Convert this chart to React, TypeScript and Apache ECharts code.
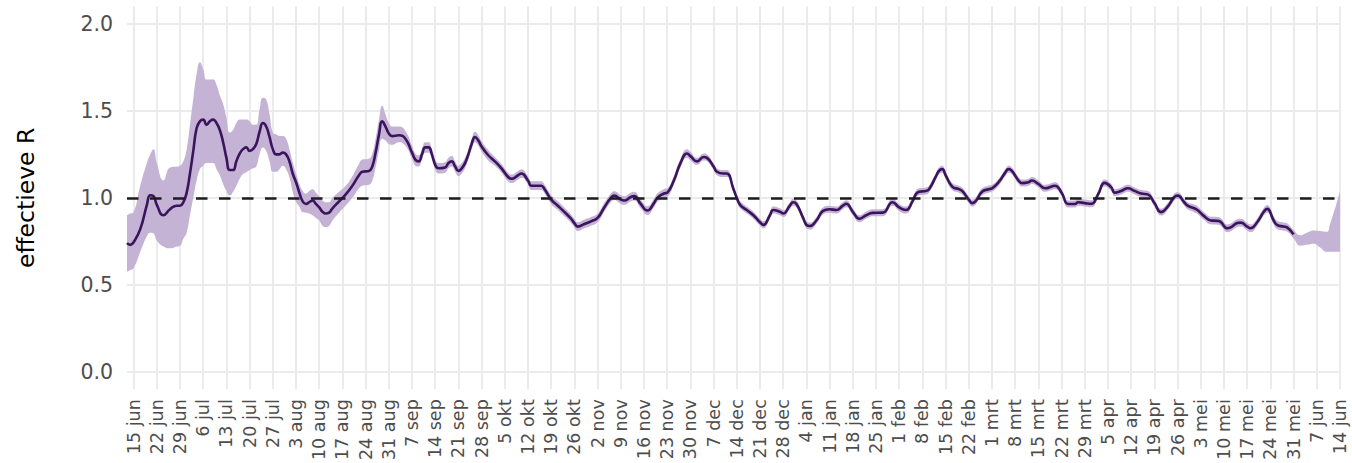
import React, { useEffect, useRef } from "react";
import * as echarts from "echarts";

// ---- x-axis range (daily categories) ----
const axisStart = "2020-06-13";
const axisEnd = "2021-06-14";
const monthNames = ["jan", "feb", "mrt", "apr", "mei", "jun", "jul", "aug", "sep", "okt", "nov", "dec"];
const yTitle = "effectieve R";
const refLevel = 1;

// ---- estimated effective R (line), sample dates ----
const lineDates = [
  // jun 2020
  "2020-06-13", "2020-06-14", "2020-06-15", "2020-06-17", "2020-06-19", "2020-06-20", "2020-06-21", "2020-06-22", "2020-06-24", "2020-06-26", "2020-06-28", "2020-06-29", "2020-06-30",
  // jul
  "2020-07-01", "2020-07-02", "2020-07-03", "2020-07-04", "2020-07-05", "2020-07-06", "2020-07-07", "2020-07-08", "2020-07-09", "2020-07-10", "2020-07-11", "2020-07-12", "2020-07-13", "2020-07-14", "2020-07-15", "2020-07-16", "2020-07-17", "2020-07-18", "2020-07-19", "2020-07-20", "2020-07-21", "2020-07-22", "2020-07-23", "2020-07-24", "2020-07-25", "2020-07-26", "2020-07-27", "2020-07-28", "2020-07-29", "2020-07-30", "2020-07-31",
  // aug
  "2020-08-01", "2020-08-02", "2020-08-03", "2020-08-04", "2020-08-05", "2020-08-06", "2020-08-07", "2020-08-08", "2020-08-09", "2020-08-10", "2020-08-11", "2020-08-12", "2020-08-13", "2020-08-14", "2020-08-16", "2020-08-18", "2020-08-20", "2020-08-22", "2020-08-23", "2020-08-25", "2020-08-26", "2020-08-27", "2020-08-28", "2020-08-29", "2020-08-30", "2020-08-31",
  // sep
  "2020-09-01", "2020-09-03", "2020-09-05", "2020-09-07", "2020-09-08", "2020-09-09", "2020-09-10", "2020-09-11", "2020-09-12", "2020-09-13", "2020-09-14", "2020-09-15", "2020-09-17", "2020-09-18", "2020-09-19", "2020-09-20", "2020-09-21", "2020-09-22", "2020-09-23", "2020-09-24", "2020-09-25", "2020-09-26", "2020-09-27", "2020-09-28", "2020-09-30",
  // okt
  "2020-10-02", "2020-10-04", "2020-10-06", "2020-10-07", "2020-10-09", "2020-10-10", "2020-10-12", "2020-10-13", "2020-10-15", "2020-10-16", "2020-10-17", "2020-10-19", "2020-10-21", "2020-10-24", "2020-10-25", "2020-10-26", "2020-10-27", "2020-10-29", "2020-10-31",
  // nov
  "2020-11-02", "2020-11-04", "2020-11-06", "2020-11-07", "2020-11-09", "2020-11-10", "2020-11-12", "2020-11-13", "2020-11-15", "2020-11-17", "2020-11-19", "2020-11-20", "2020-11-22", "2020-11-23", "2020-11-25", "2020-11-27", "2020-11-29", "2020-11-30",
  // dec
  "2020-12-02", "2020-12-04", "2020-12-05", "2020-12-07", "2020-12-08", "2020-12-10", "2020-12-11", "2020-12-13", "2020-12-14", "2020-12-15", "2020-12-17", "2020-12-19", "2020-12-21", "2020-12-22", "2020-12-24", "2020-12-25", "2020-12-27", "2020-12-28", "2020-12-30", "2020-12-31",
  // jan 2021
  "2021-01-01", "2021-01-03", "2021-01-04", "2021-01-05", "2021-01-07", "2021-01-09", "2021-01-11", "2021-01-13", "2021-01-15", "2021-01-16", "2021-01-18", "2021-01-20", "2021-01-22", "2021-01-24", "2021-01-27", "2021-01-30",
  // feb
  "2021-02-01", "2021-02-03", "2021-02-05", "2021-02-06", "2021-02-07", "2021-02-09", "2021-02-10", "2021-02-12", "2021-02-13", "2021-02-14", "2021-02-15", "2021-02-17", "2021-02-19", "2021-02-20", "2021-02-22", "2021-02-23", "2021-02-24", "2021-02-26", "2021-02-28",
  // mrt
  "2021-03-01", "2021-03-03", "2021-03-05", "2021-03-06", "2021-03-07", "2021-03-09", "2021-03-10", "2021-03-12", "2021-03-13", "2021-03-15", "2021-03-17", "2021-03-19", "2021-03-20", "2021-03-22", "2021-03-24", "2021-03-26", "2021-03-27", "2021-03-29", "2021-03-31",
  // apr
  "2021-04-02", "2021-04-04", "2021-04-06", "2021-04-07", "2021-04-09", "2021-04-11", "2021-04-13", "2021-04-15", "2021-04-17", "2021-04-19", "2021-04-21", "2021-04-23", "2021-04-25", "2021-04-26", "2021-04-28", "2021-04-29",
  // mei
  "2021-05-01", "2021-05-02", "2021-05-04", "2021-05-06", "2021-05-08", "2021-05-09", "2021-05-11", "2021-05-12", "2021-05-14", "2021-05-15", "2021-05-17", "2021-05-18", "2021-05-20", "2021-05-22", "2021-05-23", "2021-05-25", "2021-05-26", "2021-05-28", "2021-05-29", "2021-05-31",
];

const lineValues = [
  // jun
  0.74, 0.73, 0.745, 0.82, 0.96, 1.015, 1.01, 0.96, 0.9, 0.935, 0.955, 0.955, 0.975,
  // jul
  1.03, 1.14, 1.27, 1.4, 1.44, 1.45, 1.42, 1.44, 1.45, 1.43, 1.39, 1.32, 1.23, 1.16, 1.16, 1.21, 1.255, 1.28, 1.29, 1.27, 1.28, 1.31, 1.38, 1.43, 1.41, 1.35, 1.28, 1.25, 1.25, 1.26, 1.25,
  // aug
  1.21, 1.14, 1.09, 1.03, 0.98, 0.965, 0.975, 0.985, 0.965, 0.945, 0.92, 0.91, 0.915, 0.94, 0.98, 1.02, 1.07, 1.13, 1.15, 1.155, 1.18, 1.26, 1.36, 1.44, 1.41, 1.37,
  // sep
  1.355, 1.36, 1.34, 1.26, 1.22, 1.21, 1.25, 1.29, 1.29, 1.25, 1.19, 1.17, 1.175, 1.2, 1.21, 1.18, 1.155, 1.17, 1.2, 1.25, 1.31, 1.35, 1.33, 1.295, 1.245,
  // okt
  1.21, 1.17, 1.12, 1.11, 1.13, 1.14, 1.1, 1.07, 1.07, 1.07, 1.05, 0.99, 0.955, 0.9, 0.88, 0.855, 0.835, 0.85, 0.865,
  // nov
  0.885, 0.945, 1.0, 1.013, 0.99, 0.985, 1.005, 1.01, 0.965, 0.927, 0.97, 1.0, 1.025, 1.03, 1.1, 1.2, 1.255, 1.24,
  // dec
  1.21, 1.235, 1.23, 1.18, 1.15, 1.14, 1.14, 1.05, 1.0, 0.96, 0.93, 0.9, 0.86, 0.845, 0.9, 0.93, 0.92, 0.91, 0.955, 0.975,
  // jan
  0.965, 0.885, 0.845, 0.838, 0.87, 0.925, 0.935, 0.93, 0.955, 0.966, 0.92, 0.88, 0.9, 0.914, 0.915, 0.975,
  // feb
  0.945, 0.93, 0.98, 1.02, 1.035, 1.04, 1.05, 1.12, 1.155, 1.165, 1.13, 1.065, 1.05, 1.04, 0.99, 0.97, 0.98, 1.035, 1.05,
  // mrt
  1.055, 1.09, 1.145, 1.165, 1.155, 1.1, 1.085, 1.09, 1.1, 1.08, 1.055, 1.065, 1.07, 1.03, 0.965, 0.965, 0.975, 0.97, 0.966,
  // apr
  1.02, 1.086, 1.06, 1.03, 1.04, 1.055, 1.04, 1.025, 1.02, 0.97, 0.918, 0.95, 1.005, 1.013, 0.975, 0.955,
  // mei
  0.94, 0.93, 0.895, 0.87, 0.868, 0.862, 0.825, 0.83, 0.855, 0.858, 0.835, 0.825, 0.86, 0.92, 0.937, 0.87, 0.845, 0.835, 0.83, 0.79,
];

// ---- uncertainty band: distance above / below the line at the same dates ----
const bandAbove = [
  // jun
  0.16, 0.18, 0.173, 0.25, 0.24, 0.235, 0.27, 0.24, 0.2, 0.24, 0.225, 0.23, 0.235,
  // jul
  0.25, 0.28, 0.3, 0.31, 0.34, 0.29, 0.26, 0.24, 0.23, 0.22, 0.2, 0.22, 0.23, 0.215, 0.23, 0.22, 0.195, 0.17, 0.16, 0.17, 0.14, 0.11, 0.13, 0.145, 0.155, 0.13, 0.095, 0.115, 0.105, 0.095, 0.09,
  // aug
  0.07, 0.065, 0.05, 0.05, 0.06, 0.06, 0.065, 0.065, 0.065, 0.065, 0.065, 0.065, 0.06, 0.06, 0.055, 0.05, 0.055, 0.065, 0.07, 0.07, 0.075, 0.08, 0.085, 0.09, 0.07, 0.06,
  // sep
  0.055, 0.05, 0.045, 0.04, 0.035, 0.035, 0.03, 0.03, 0.03, 0.03, 0.03, 0.03, 0.03, 0.03, 0.03, 0.03, 0.03, 0.03, 0.03, 0.03, 0.03, 0.03, 0.03, 0.03, 0.03,
  // okt
  0.025, 0.025, 0.025, 0.025, 0.025, 0.025, 0.025, 0.025, 0.025, 0.025, 0.025, 0.025, 0.025, 0.025, 0.025, 0.025, 0.025, 0.025, 0.025,
  // nov
  0.025, 0.025, 0.025, 0.025, 0.025, 0.025, 0.025, 0.025, 0.025, 0.025, 0.025, 0.025, 0.025, 0.025, 0.025, 0.025, 0.025, 0.025,
  // dec
  0.02, 0.02, 0.02, 0.02, 0.02, 0.02, 0.02, 0.02, 0.02, 0.02, 0.02, 0.02, 0.02, 0.02, 0.02, 0.02, 0.02, 0.02, 0.02, 0.02,
  // jan
  0.02, 0.02, 0.02, 0.02, 0.02, 0.02, 0.02, 0.02, 0.02, 0.02, 0.02, 0.02, 0.02, 0.02, 0.02, 0.02,
  // feb
  0.02, 0.02, 0.02, 0.02, 0.02, 0.02, 0.02, 0.02, 0.02, 0.02, 0.02, 0.02, 0.02, 0.02, 0.02, 0.02, 0.02, 0.02, 0.02,
  // mrt
  0.02, 0.02, 0.02, 0.02, 0.02, 0.02, 0.02, 0.02, 0.02, 0.02, 0.02, 0.02, 0.02, 0.02, 0.02, 0.02, 0.02, 0.02, 0.02,
  // apr
  0.02, 0.02, 0.02, 0.02, 0.02, 0.02, 0.02, 0.02, 0.02, 0.02, 0.02, 0.02, 0.02, 0.02, 0.02, 0.02,
  // mei
  0.022, 0.022, 0.022, 0.022, 0.022, 0.022, 0.022, 0.022, 0.022, 0.022, 0.022, 0.022, 0.022, 0.022, 0.022, 0.024, 0.024, 0.024, 0.024, 0.025,
];

const bandBelow = [
  // jun
  0.165, 0.145, 0.15, 0.13, 0.18, 0.215, 0.215, 0.205, 0.18, 0.225, 0.235, 0.23, 0.21,
  // jul
  0.23, 0.24, 0.27, 0.3, 0.275, 0.265, 0.22, 0.24, 0.25, 0.265, 0.26, 0.24, 0.19, 0.147, 0.125, 0.14, 0.145, 0.143, 0.143, 0.11, 0.11, 0.13, 0.13, 0.14, 0.14, 0.14, 0.13, 0.1, 0.085, 0.075, 0.085,
  // aug
  0.09, 0.105, 0.113, 0.08, 0.062, 0.05, 0.065, 0.085, 0.08, 0.075, 0.08, 0.077, 0.075, 0.07, 0.065, 0.064, 0.07, 0.075, 0.08, 0.08, 0.08, 0.085, 0.09, 0.1, 0.08, 0.06,
  // sep
  0.05, 0.04, 0.04, 0.035, 0.035, 0.03, 0.03, 0.03, 0.03, 0.03, 0.03, 0.03, 0.03, 0.03, 0.03, 0.03, 0.03, 0.03, 0.03, 0.03, 0.03, 0.03, 0.03, 0.03, 0.03,
  // okt
  0.025, 0.025, 0.025, 0.025, 0.025, 0.025, 0.025, 0.025, 0.025, 0.025, 0.025, 0.025, 0.025, 0.025, 0.025, 0.025, 0.025, 0.025, 0.025,
  // nov
  0.025, 0.025, 0.025, 0.025, 0.025, 0.025, 0.025, 0.025, 0.025, 0.025, 0.025, 0.025, 0.025, 0.025, 0.025, 0.025, 0.025, 0.025,
  // dec
  0.02, 0.02, 0.02, 0.02, 0.02, 0.02, 0.02, 0.02, 0.02, 0.02, 0.02, 0.02, 0.02, 0.02, 0.02, 0.02, 0.02, 0.02, 0.02, 0.02,
  // jan
  0.02, 0.02, 0.02, 0.02, 0.02, 0.02, 0.02, 0.02, 0.02, 0.02, 0.02, 0.02, 0.02, 0.02, 0.02, 0.02,
  // feb
  0.02, 0.02, 0.02, 0.02, 0.02, 0.02, 0.02, 0.02, 0.02, 0.02, 0.02, 0.02, 0.02, 0.02, 0.02, 0.02, 0.02, 0.02, 0.02,
  // mrt
  0.02, 0.02, 0.02, 0.02, 0.02, 0.02, 0.02, 0.02, 0.02, 0.02, 0.02, 0.02, 0.02, 0.02, 0.02, 0.02, 0.02, 0.02, 0.02,
  // apr
  0.02, 0.02, 0.02, 0.02, 0.02, 0.02, 0.02, 0.02, 0.02, 0.02, 0.02, 0.02, 0.02, 0.02, 0.02, 0.02,
  // mei
  0.022, 0.022, 0.022, 0.022, 0.022, 0.022, 0.022, 0.022, 0.022, 0.022, 0.022, 0.022, 0.022, 0.022, 0.022, 0.024, 0.024, 0.024, 0.024, 0.024,
];

// ---- band after the line ends (jun 2021) ----
const tailDates = ["2021-06-02", "2021-06-04", "2021-06-06", "2021-06-08", "2021-06-10", "2021-06-11", "2021-06-12", "2021-06-13", "2021-06-14"];
const tailLow = [0.725, 0.73, 0.737, 0.715, 0.69, 0.69, 0.69, 0.69, 0.69];
const tailHigh = [0.785, 0.8, 0.813, 0.81, 0.805, 0.85, 0.91, 0.97, 1.04];

// ---- colours ----
const lineColor = "#3b145e";
const bandColor = "#c4b3d4";
const gridColor = "#ebebeb";
const textColor = "#4d4d4d";
const font = "DejaVu Sans";

function pad(n: number) {
  return n < 10 ? "0" + n : "" + n;
}
function isoDay(t: number) {
  const d = new Date(t);
  return d.getUTCFullYear() + "-" + pad(d.getUTCMonth() + 1) + "-" + pad(d.getUTCDate());
}
function buildCategories(): string[] {
  const out: string[] = [];
  const start = Date.parse(axisStart + "T00:00:00Z");
  const end = Date.parse(axisEnd + "T00:00:00Z");
  for (let t = start; t <= end; t += 86400000) out.push(isoDay(t));
  return out;
}
function isMonday(s: string) {
  return new Date(s + "T00:00:00Z").getUTCDay() === 1;
}
function fmtDate(s: string) {
  const d = new Date(s + "T00:00:00Z");
  return d.getUTCDate() + " " + monthNames[d.getUTCMonth()];
}

export default function App() {
  const ref = useRef<HTMLDivElement>(null);

  useEffect(() => {
    if (!ref.current) return;
    const chart = echarts.init(ref.current, undefined, { renderer: "svg" });
    const categories = buildCategories();

    const bandDates = lineDates.concat(tailDates);
    const lows = lineValues.map((v, i) => v - bandBelow[i]).concat(tailLow);
    const highs = lineValues.map((v, i) => v + bandAbove[i]).concat(tailHigh);

    const mondayInterval = (_i: number, v: string) => isMonday(v);

    chart.setOption({
      animation: false,
      backgroundColor: "#ffffff",
      grid: { left: 127, right: 12, top: 6.5, bottom: 71.5, containLabel: false },
      xAxis: {
        type: "category",
        data: categories,
        boundaryGap: false,
        axisLine: { show: false },
        axisTick: { show: false },
        axisLabel: {
          interval: mondayInterval,
          rotate: 90,
          margin: 10,
          formatter: (v: string) => fmtDate(v),
          color: textColor,
          fontSize: 17.5,
          fontFamily: font,
        },
        splitLine: {
          show: true,
          interval: mondayInterval,
          lineStyle: { color: gridColor, width: 2 },
        },
      },
      yAxis: {
        type: "value",
        min: -0.1,
        max: 2.1,
        name: yTitle,
        nameLocation: "middle",
        nameGap: 89,
        nameTextStyle: { color: "#000000", fontSize: 23.5, fontFamily: font },
        axisLine: { show: false },
        axisTick: { show: false },
        axisLabel: {
          showMinLabel: false,
          showMaxLabel: false,
          margin: 14,
          formatter: (v: number) => v.toFixed(1),
          color: textColor,
          fontSize: 20.5,
          fontFamily: font,
        },
        splitLine: {
          show: true,
          showMinLine: false,
          showMaxLine: false,
          lineStyle: { color: gridColor, width: 2 },
        },
      },
      series: [
        {
          name: "ondergrens",
          type: "line",
          stack: "band",
          data: bandDates.map((d, i) => [d, lows[i]]),
          symbol: "none",
          smooth: true,
          lineStyle: { opacity: 0 },
          silent: true,
          z: 1,
        },
        {
          name: "band",
          type: "line",
          stack: "band",
          data: bandDates.map((d, i) => [d, highs[i] - lows[i]]),
          symbol: "none",
          smooth: true,
          lineStyle: { opacity: 0 },
          areaStyle: { color: bandColor, opacity: 1 },
          silent: true,
          z: 1,
        },
        {
          name: "R",
          type: "line",
          data: lineDates.map((d, i) => [d, lineValues[i]]),
          symbol: "none",
          smooth: true,
          lineStyle: { color: lineColor, width: 2.6 },
          z: 3,
          markLine: {
            silent: true,
            symbol: ["none", "none"],
            label: { show: false },
            lineStyle: { color: "#1c1c1c", width: 2.5, type: [11.5, 11.5] },
            data: [{ yAxis: refLevel }],
            z: 4,
          },
        },
      ],
    });

    return () => chart.dispose();
  }, []);

  return (
    <div
      ref={ref}
      style={{ position: "absolute", left: 0, top: 0, width: 1352, height: 463 }}
    />
  );
}
